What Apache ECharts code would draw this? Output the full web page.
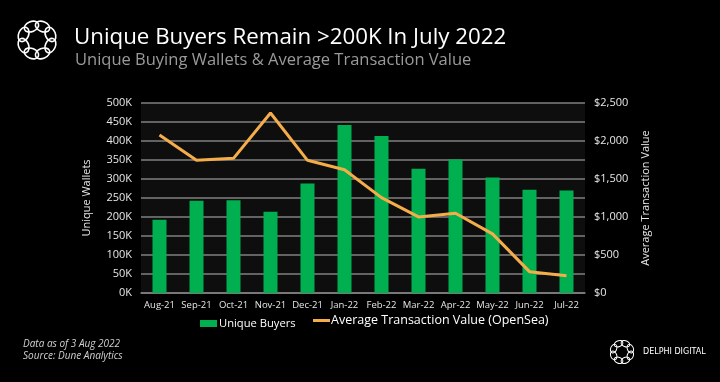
<!DOCTYPE html>
<html><head><meta charset="utf-8">
<script src="https://cdn.jsdelivr.net/npm/echarts@6/dist/echarts.min.js"></script>
<style>html,body{margin:0;padding:0;background:#000;}#c{width:720px;height:382px;}</style>
</head><body><div id="c"></div>
<script>
const categories = ['Aug-21','Sep-21','Oct-21','Nov-21','Dec-21','Jan-22','Feb-22','Mar-22','Apr-22','May-22','Jun-22','Jul-22'];
const uniqueBuyers = [193000, 243000, 244000, 214000, 288000, 442000, 413000, 327000, 351000, 304000, 272000, 270000];
const avgTxValue = [2080, 1746, 1772, 2368, 1746, 1621, 1255, 1001, 1050, 778, 281, 228];
const leftTicks = {min: 0, max: 500000, interval: 50000};
const rightTicks = {min: 0, max: 2500, interval: 500};

const FONT = 'Open Sans';
function logo(cx, cy, R, rx, ry, lw) {
  const els = [];
  for (let k = 0; k < 8; k++) {
    const a = k * Math.PI / 4 + Math.PI / 8;
    els.push({type:'ellipse', x: cx + R*Math.cos(a), y: cy + R*Math.sin(a),
      rotation: -(a + Math.PI/2),
      shape:{cx: 0, cy: 0, rx: rx, ry: ry},
      style:{fill:'none', stroke:'#fff', lineWidth: lw}, silent:true});
  }
  return els;
}
const chart = echarts.init(document.getElementById('c'), null, {renderer:'canvas'});
chart.setOption({
  backgroundColor: '#000',
  animation: false,
  textStyle: {fontFamily: FONT},
  title: [
    {text: 'Unique Buyers Remain >200K In July 2022', left: 74, top: 27, padding: 0,
     textStyle: {color: '#fff', fontSize: 22.3, fontWeight: 'normal', fontFamily: FONT}},
    {text: 'Unique Buying Wallets & Average Transaction Value', left: 75, top: 52, padding: 0,
     textStyle: {color: '#9a9a9a', fontSize: 16.5, fontWeight: 'normal', fontFamily: FONT}}
  ],
  grid: {left: 141, right: 135, top: 103, bottom: 89, show: true, backgroundColor: '#0e0e0e', borderWidth: 0},
  legend: [
    {left: 200, bottom: 53, itemWidth: 17, itemHeight: 7, padding: 0,
     textStyle: {color: '#fff', fontSize: 11.2, fontFamily: FONT, padding: [0,0,0,-3]},
     data: [{name: 'Unique Buyers', icon: 'rect'}]},
    {left: 313, bottom: 55, itemWidth: 17, itemHeight: 3, padding: 0,
     textStyle: {color: '#fff', fontSize: 12.5, fontFamily: FONT, padding: [0,0,0,-4]},
     data: [{name: 'Average Transaction Value (OpenSea)', icon: 'rect'}]}
  ],
  xAxis: {
    type: 'category', data: categories,
    axisLine: {lineStyle: {color: '#808080', width: 1.5}},
    axisTick: {show: false},
    axisLabel: {color: '#e6e6e6', fontSize: 9.5, margin: 7, interval: 0}
  },
  yAxis: [
    {type: 'value', min: leftTicks.min, max: leftTicks.max, interval: leftTicks.interval,
     name: 'Unique Wallets', nameLocation: 'middle', nameGap: 49, nameRotate: 90,
     nameTextStyle: {color: '#e6e6e6', fontSize: 11},
     axisLabel: {color: '#e6e6e6', fontSize: 11, margin: 9, formatter: v => (v/1000) + 'K'},
     splitLine: {lineStyle: {color: '#808080', width: 1.5}},
     axisLine: {show: false}, axisTick: {show: false}},
    {type: 'value', min: rightTicks.min, max: rightTicks.max, interval: rightTicks.interval,
     name: 'Average Transaction Value', nameLocation: 'middle', nameGap: 55, nameRotate: 90,
     nameTextStyle: {color: '#e6e6e6', fontSize: 11},
     axisLabel: {color: '#e6e6e6', fontSize: 11, margin: 9, formatter: v => '$' + v.toLocaleString('en-US')},
     splitLine: {show: false}, axisLine: {show: false}, axisTick: {show: false}}
  ],
  series: [
    {name: 'Unique Buyers', type: 'bar', data: uniqueBuyers, barWidth: 14, yAxisIndex: 0,
     itemStyle: {color: '#00b050'}},
    {name: 'Average Transaction Value (OpenSea)', type: 'line', data: avgTxValue, yAxisIndex: 1,
     symbol: 'none', lineStyle: {color: '#f5ad4a', width: 3}, itemStyle: {color: '#f5ad4a'}}
  ],
  graphic: [
    ...logo(37, 40, 14.5, 7.5, 5, 1.6),
    ...logo(622, 352, 9, 4.5, 3, 1),
    {type: 'text', left: 643, top: 348, style: {text: 'DELPHI DIGITAL', fill: '#fff', font: '8px "DejaVu Sans"'}},
    {type: 'text', left: 23, top: 338, style: {text: 'Data as of 3 Aug 2022\nSource: Dune Analytics',
      fill: '#d0d0d0', font: 'italic 10px "Open Sans"', lineHeight: 12}}
  ]
});
</script></body></html>
